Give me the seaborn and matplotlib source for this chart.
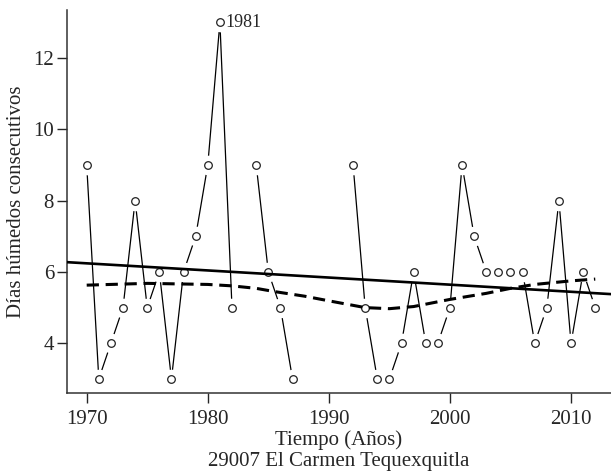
import matplotlib
matplotlib.use("Agg")
import matplotlib.pyplot as plt
import numpy as np
import pandas as pd
import seaborn as sns

# Datos: días húmedos consecutivos por año (huecos = años sin dato)
anios = [1970, 1971, 1972, 1973, 1974, 1975, 1976, 1977, 1978, 1979, 1980,
         1981, 1982, 1984, 1985, 1986, 1987, 1992, 1993, 1994, 1995, 1996,
         1997, 1998, 1999, 2000, 2001, 2002, 2003, 2004, 2005, 2006, 2007,
         2008, 2009, 2010, 2011, 2012]
dias = [9, 3, 4, 5, 8, 5, 6, 3, 6, 7, 9,
        13, 5, 9, 6, 5, 3, 9, 5, 3, 3, 4,
        6, 4, 4, 5, 9, 7, 6, 6, 6, 6, 4,
        5, 8, 4, 6, 5]
tramos = [1] * 13 + [2] * 4 + [3] * 21

# Curva suavizada (línea discontinua)
anios_suave = [1970, 1975, 1980, 1982, 1984, 1985.5, 1988, 1990, 1993,
               1995, 1997, 2000, 2003, 2005, 2007, 2010, 2012]
dias_suave = [5.63, 5.68, 5.65, 5.61, 5.54, 5.45, 5.32, 5.19, 5.00,
              4.97, 5.03, 5.23, 5.40, 5.54, 5.65, 5.75, 5.80]

df = pd.DataFrame({"anio": anios, "dias": dias, "tramo": tramos})
df_suave = pd.DataFrame({"anio": anios_suave, "dias": dias_suave})

sns.set_style("ticks")
plt.rcParams["font.family"] = ["Liberation Serif", "DejaVu Serif"]

fig = plt.figure(figsize=(6.11, 4.72), dpi=100)
ax = fig.add_axes([0.109, 0.167, 0.891, 0.812])
ax.set_xlim(1968.34, 2013.3)
ax.set_ylim(2.6, 13.35)

# línea que une los puntos, con huecos alrededor de los marcadores (tipo "b")
sns.lineplot(data=df, x="anio", y="dias", units="tramo", estimator=None,
             color="k", lw=0.9, ax=ax, zorder=1)
sns.scatterplot(data=df, x="anio", y="dias", s=200, color="white",
                linewidth=0, ax=ax, zorder=2)
sns.scatterplot(data=df, x="anio", y="dias", s=30, facecolor="white",
                edgecolor="#222222", linewidth=0.9, ax=ax, zorder=3)

# tendencia lineal y curva suavizada
sns.regplot(data=df, x="anio", y="dias", scatter=False, ci=None,
            truncate=False, color="k", line_kws={"lw": 1.9, "zorder": 4}, ax=ax)
sns.lineplot(data=df_suave, x="anio", y="dias", color="k", lw=2.2,
             ax=ax, zorder=4, dashes=False, linestyle=(0, (4, 2.2)))

ax.set_xlim(1968.34, 2013.3)
ax.set_ylim(2.6, 13.35)

ax.annotate("1981", (1981, 13), xytext=(4, 0), textcoords="offset points",
            ha="left", va="center", fontsize=13)

ax.set_xticks([1970, 1980, 1990, 2000, 2010])
ax.set_yticks([4, 6, 8, 10, 12])
ax.tick_params(labelsize=15, length=7, width=1)
ax.tick_params(axis="x", pad=5)
ax.tick_params(axis="y", pad=2)
ax.set_xlabel("Tiempo (Años)\n29007 El Carmen Tequexquitla", fontsize=15,
              labelpad=1, linespacing=1.12)
ax.set_ylabel("Días húmedos consecutivos", fontsize=15, labelpad=5)
sns.despine(ax=ax)
for s in ("left", "bottom"):
    ax.spines[s].set_linewidth(1.1)
    ax.spines[s].set_color("#333333")

fig.savefig("out.png", dpi=100)
